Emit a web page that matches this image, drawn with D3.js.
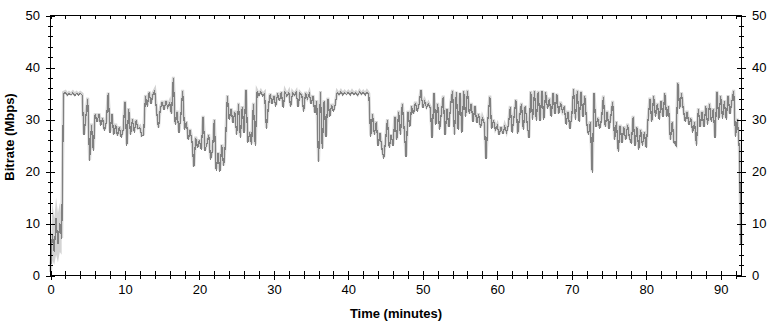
<!DOCTYPE html>
<html>
<head>
<meta charset="utf-8">
<script src="https://cdn.jsdelivr.net/npm/d3@7"></script>
<style>
body { margin: 0; background: #fff; }
svg { display: block; }
text { font-family: "Liberation Sans", Arial, sans-serif; }
</style>
</head>
<body>
<svg width="770" height="322"></svg>
<script>
// bitrate samples (Mbps), one every 15 seconds
const stepMinutes = 0.25
const bitrate = [
  0.5, 8, 4.5, 11, 6, 10, 7, 35,
  35.2, 34.6, 35.0, 34.7, 35.1, 34.6, 35.0, 34.7,
  35.0, 34.7, 27, 30.5, 34, 22, 29, 24,
  31, 29.5, 31, 28.8, 30.2, 27.8, 29.5, 35,
  27.5, 31, 27, 29, 26.8, 28.5, 26.5, 28,
  33.4, 25, 32, 27, 30, 27.5, 29.8, 28.2,
  28.5, 26.8, 27, 34.5, 32.5, 35.2, 33, 34.8,
  35.5, 31.5, 28.3, 32, 33.4, 31.8, 33.5, 32.3,
  33.2, 31, 38, 29, 31.5, 27.5, 30.5, 35.5,
  28, 29.5, 26, 28, 25.8, 20.8, 26.5, 24.5,
  26, 24.2, 30.5, 24, 25.3, 27, 22.3, 24,
  29.9, 20.2, 23.5, 20, 25, 21, 25.5, 34.5,
  30, 32, 29.3, 31.5, 27, 33, 26.5, 32.4,
  27.5, 35.6, 25.5, 27.5, 25.2, 33, 25, 35.3,
  34.6, 35.3, 34.6, 35, 28.2, 32.4, 34.8, 33,
  34.5, 32.5, 35, 33.5, 35.2, 32.3, 35.3, 34.5,
  35.2, 32.4, 35.1, 34.6, 35.2, 32.4, 35, 34.6,
  31.5, 35.1, 34, 35, 33, 34.5, 31.2, 33.5,
  21.8, 35.3, 24.3, 33.5, 26.7, 34, 30.5, 32.8,
  31.5, 33, 35.2, 34.7, 35.3, 34.7, 35.2, 34.8,
  35.2, 34.7, 35.3, 34.8, 35.1, 34.6, 35.3, 34.8,
  35.2, 34.7, 35.3, 34.8, 26.7, 31, 27, 29.5,
  25, 27.3, 24.5, 22.5, 26, 29.9, 24.5, 27,
  25, 30.5, 26, 31.5, 27, 33, 28, 22.8,
  31.5, 28.5, 32.5, 31, 33.2, 31.5, 33, 35.6,
  32.2, 33.4, 32.3, 33, 32.2, 26.5, 35, 29,
  33, 28, 31.5, 34.4, 27, 32, 28.5, 33,
  35.5, 27, 35.2, 28, 35, 27.5, 35.4, 30.5,
  35.5, 31, 33, 29.5, 32.5, 29.3, 31, 28.3,
  30.3, 29.3, 22.4, 30.2, 34.4, 28.2, 29.8, 28,
  28.8, 27, 28.5, 27.2, 28.7, 27.5, 29, 32.4,
  27.5, 30.5, 33.7, 27.2, 30.5, 33, 28, 32.5,
  29.5, 26.4, 35.3, 30, 35.4, 29.8, 35.3, 29.7,
  35.4, 30, 35.2, 32, 34, 30.5, 35, 31,
  34.8, 31, 33.2, 31.5, 32.5, 29, 31.5, 28.2,
  30.5, 35.8, 30, 35.5, 29.5, 35.3, 30.5, 34.5,
  29.5, 27, 29.5, 19.8, 35, 28.5, 30.3, 28.2,
  30, 34.4, 28.5, 31.5, 28.2, 30.5, 33.4, 26,
  29.5, 23.8, 28.8, 25.5, 28.5, 26, 29, 26.5,
  25.3, 30.5, 25, 28.5, 24.2, 28, 25, 27.5,
  24.5, 30, 34, 29.5, 34.5, 30.5, 33, 30,
  33.5, 30.5, 35, 30.5, 32.5, 26, 29.5, 25.5,
  25, 37, 32, 35, 31.8, 29.5, 31.5, 29,
  30.2, 27.5, 29.5, 25, 32, 28.5, 31.5, 28.5,
  32.5, 29, 33, 29.5, 32, 26.5, 35.3, 30,
  34.5, 30.2, 33.5, 30, 34.5, 31, 33.5, 35.5,
  26.7, 30, 24.5, 6
]

// wide spread of the per-second samples during start-up (first 1.5 min)
const startupHigh = [2, 14, 11, 15, 12, 14, 11]
const startupLow = [0, 3, 2, 4, 2.5, 4.5, 4]

const xTicks = [0, 10, 20, 30, 40, 50, 60, 70, 80, 90]
const yTicks = [0, 10, 20, 30, 40, 50]
const xMax = 92.8

const svg = d3.select("svg")

const x = d3.scaleLinear().domain([0, xMax]).range([50.5, 741.5])
const y = d3.scaleLinear().domain([0, 50]).range([275.5, 15.5])

const line = d3.line()
  .x((d, i) => x(i * stepMinutes))
  .y(d => y(d))

const startArea = d3.area()
  .x((d, i) => x(i * stepMinutes))
  .y0((d, i) => y(startupLow[i]))
  .y1(d => y(d))

svg.append("path")
  .datum(startupHigh)
  .attr("d", startArea)
  .attr("fill", "#d4d4d4")

// light halo under the trace
svg.append("path")
  .datum(bitrate)
  .attr("d", line)
  .attr("fill", "none")
  .attr("stroke", "#d4d4d4")
  .attr("stroke-width", 3)
  .attr("transform", "translate(0,-1)")

svg.append("path")
  .datum(bitrate)
  .attr("d", line)
  .attr("fill", "none")
  .attr("stroke", "#808080")
  .attr("stroke-width", 1.2)
  .attr("shape-rendering", "crispEdges")

// frame
svg.append("rect")
  .attr("x", 50.5).attr("y", 15.5)
  .attr("width", 691).attr("height", 260)
  .attr("fill", "none")
  .attr("stroke", "black")

const minorX = d3.range(0, xMax, 2)
const minorY = d3.range(0, 51, 2)

// bottom axis
const gx = svg.append("g").attr("transform", "translate(0,275.5)")
gx.call(d3.axisBottom(x).tickValues(minorX).tickSize(3).tickFormat(""))
gx.append("g").call(d3.axisBottom(x).tickValues(xTicks).tickSize(4.5).tickSizeOuter(0).tickPadding(5).tickFormat(d3.format("d")))
gx.selectAll(".domain").remove()
gx.selectAll("g g line").attr("y1", -4.5)

// top ticks
const gt = svg.append("g").attr("transform", "translate(0,15.5)")
gt.call(d3.axisBottom(x).tickValues(minorX).tickSize(3).tickFormat(""))
gt.selectAll(".domain").remove()

// left axis
const gy = svg.append("g").attr("transform", "translate(50.5,0)")
gy.call(d3.axisLeft(y).tickValues(minorY).tickSize(2.5).tickFormat(""))
gy.selectAll("line").attr("x2", -2.5).attr("x1", 2.5)
const gyMajor = gy.append("g").call(d3.axisLeft(y).tickValues(yTicks).tickSize(4.5).tickPadding(6).tickFormat(d3.format("d")))
gyMajor.selectAll("line").attr("x1", 4.5)
gy.selectAll(".domain").remove()

// right axis
const gr = svg.append("g").attr("transform", "translate(741.5,0)")
gr.call(d3.axisRight(y).tickValues(minorY).tickSize(2.5).tickFormat(""))
gr.selectAll("line").attr("x2", 2.5).attr("x1", -2.5)
const grMajor = gr.append("g").call(d3.axisRight(y).tickValues(yTicks).tickSize(4.5).tickPadding(6).tickFormat(d3.format("d")))
grMajor.selectAll("line").attr("x1", -4.5)
gr.selectAll(".domain").remove()

svg.selectAll(".tick line").attr("stroke", "black").attr("shape-rendering", "crispEdges")
svg.selectAll(".tick text")
  .attr("fill", "black")
  .attr("font-size", "13px")
  .attr("font-family", "Liberation Sans, Arial, sans-serif")

svg.append("text")
  .attr("x", 396).attr("y", 318)
  .attr("text-anchor", "middle")
  .attr("font-size", "13px")
  .attr("font-weight", "bold")
  .text("Time (minutes)")

svg.append("text")
  .attr("transform", "translate(14,137) rotate(-90)")
  .attr("text-anchor", "middle")
  .attr("font-size", "13px")
  .attr("font-weight", "bold")
  .text("Bitrate (Mbps)")
</script>
</body>
</html>
